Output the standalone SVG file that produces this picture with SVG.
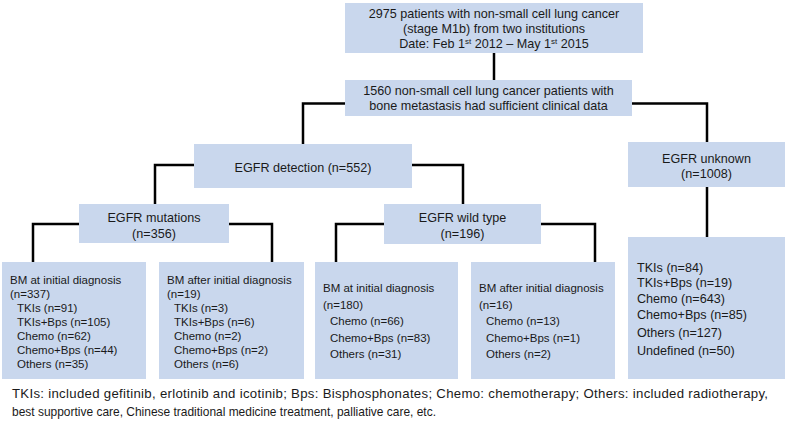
<svg xmlns="http://www.w3.org/2000/svg" width="787" height="423" viewBox="0 0 787 423">
<style>
.box{fill:#c9d7ed;}
.t{font-family:"Liberation Sans",Arial,sans-serif;font-size:12.6px;fill:#1a1a1a;}
.c{text-anchor:middle;}
.s{font-family:"Liberation Sans",Arial,sans-serif;font-size:11.5px;fill:#1a1a1a;}
.f{font-family:"Liberation Sans",Arial,sans-serif;font-size:13.2px;fill:#1a1a1a;}
.sup{font-size:8px;}
.conn{fill:none;stroke:#000;stroke-width:2.5;}
</style>
<rect width="787" height="423" fill="#fff"/>
<g id="connectors">
<path class="conn" d="M494 53 V80"/>
<path class="conn" d="M345 103.5 H303 V144"/>
<path class="conn" d="M632 103.5 H707 V142"/>
<path class="conn" d="M194 165 H155 V204"/>
<path class="conn" d="M412 165 H463 V204"/>
<path class="conn" d="M79 224 H33 V262"/>
<path class="conn" d="M229 224 H272 V262"/>
<path class="conn" d="M384 224 H336 V262"/>
<path class="conn" d="M541 224 H595 V262"/>
<path class="conn" d="M707 187 V237"/>
</g>
<g id="n-patients">
<rect class="box" x="345" y="3" width="298" height="50"/>
<text class="t c" x="494" y="18">2975 patients with non-small cell lung cancer</text>
<text class="t c" x="494" y="33">(stage M1b) from two institutions</text>
<text class="t c" x="494" y="48">Date: Feb 1<tspan class="sup" dy="-4">st</tspan><tspan dy="4"> 2012 – May 1</tspan><tspan class="sup" dy="-4">st</tspan><tspan dy="4"> 2015</tspan></text>
</g>
<g id="n-bone">
<rect class="box" x="345" y="80" width="287" height="36"/>
<text class="t c" x="488.5" y="95">1560 non-small cell lung cancer patients with</text>
<text class="t c" x="488.5" y="110">bone metastasis had sufficient clinical data</text>
</g>
<g id="n-detection">
<rect class="box" x="194" y="144" width="218" height="44"/>
<text class="t c" x="303" y="171.5">EGFR detection (n=552)</text>
</g>
<g id="n-unknown">
<rect class="box" x="628" y="142" width="157" height="45"/>
<text class="t c" x="706.5" y="162.5">EGFR unknown</text>
<text class="t c" x="706.5" y="177.5">(n=1008)</text>
</g>
<g id="n-mutations">
<rect class="box" x="79" y="204" width="150" height="39"/>
<text class="t c" x="154" y="221.5">EGFR mutations</text>
<text class="t c" x="154" y="237.5">(n=356)</text>
</g>
<g id="n-wild">
<rect class="box" x="384" y="204" width="157" height="40"/>
<text class="t c" x="462.5" y="221.5">EGFR wild type</text>
<text class="t c" x="462.5" y="237.5">(n=196)</text>
</g>
<g id="n-mut-initial">
<rect class="box" x="2" y="262" width="144" height="117"/>
<text class="s" x="10" y="284">BM at initial diagnosis</text>
<text class="s" x="10" y="298">(n=337)</text>
<text class="s" x="17" y="312">TKIs (n=91)</text>
<text class="s" x="17" y="326">TKIs+Bps (n=105)</text>
<text class="s" x="17" y="340">Chemo (n=62)</text>
<text class="s" x="17" y="354">Chemo+Bps (n=44)</text>
<text class="s" x="17" y="368">Others (n=35)</text>
</g>
<g id="n-mut-after">
<rect class="box" x="159" y="262" width="145" height="117"/>
<text class="s" x="167" y="284">BM after initial diagnosis</text>
<text class="s" x="167" y="298">(n=19)</text>
<text class="s" x="174" y="312">TKIs (n=3)</text>
<text class="s" x="174" y="326">TKIs+Bps (n=6)</text>
<text class="s" x="174" y="340">Chemo (n=2)</text>
<text class="s" x="174" y="354">Chemo+Bps (n=2)</text>
<text class="s" x="174" y="368">Others (n=6)</text>
</g>
<g id="n-wild-initial">
<rect class="box" x="315" y="262" width="143" height="117"/>
<text class="s" x="323" y="292">BM at initial diagnosis</text>
<text class="s" x="323" y="308.5">(n=180)</text>
<text class="s" x="330" y="325">Chemo (n=66)</text>
<text class="s" x="330" y="341.5">Chemo+Bps (n=83)</text>
<text class="s" x="330" y="358">Others (n=31)</text>
</g>
<g id="n-wild-after">
<rect class="box" x="471" y="262" width="144" height="117"/>
<text class="s" x="479" y="292">BM after initial diagnosis</text>
<text class="s" x="479" y="308.5">(n=16)</text>
<text class="s" x="486" y="325">Chemo (n=13)</text>
<text class="s" x="486" y="341.5">Chemo+Bps (n=1)</text>
<text class="s" x="486" y="358">Others (n=2)</text>
</g>
<g id="n-unknown-treat">
<rect class="box" x="628" y="237" width="157" height="142"/>
<text class="t" x="637" y="271.5">TKIs (n=84)</text>
<text class="t" x="637" y="286.5">TKIs+Bps (n=19)</text>
<text class="t" x="637" y="302.5">Chemo (n=643)</text>
<text class="t" x="637" y="318.5">Chemo+Bps (n=85)</text>
<text class="t" x="637" y="336.5">Others (n=127)</text>
<text class="t" x="637" y="354.5">Undefined (n=50)</text>
</g>
<g id="footnote">
<text class="f" x="12" y="398" textLength="756" lengthAdjust="spacing">TKIs: included gefitinib, erlotinib and icotinib; Bps: Bisphosphonates; Chemo: chemotherapy; Others: included radiotherapy,</text>
<text class="f" x="12" y="416" textLength="424" lengthAdjust="spacingAndGlyphs">best supportive care, Chinese traditional medicine treatment, palliative care, etc.</text>
</g>
</svg>
